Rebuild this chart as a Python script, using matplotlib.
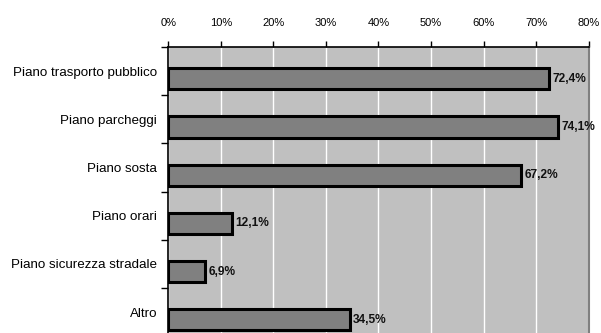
import matplotlib
matplotlib.use("Agg")
import matplotlib.pyplot as plt
from matplotlib.ticker import FixedLocator

categories = ["Piano trasporto pubblico", "Piano parcheggi", "Piano sosta",
              "Piano orari", "Piano sicurezza stradale", "Altro"]
values = [72.4, 74.1, 67.2, 12.1, 6.9, 34.5]
value_labels = ["72,4%", "74,1%", "67,2%", "12,1%", "6,9%", "34,5%"]
xticks = [0, 10, 20, 30, 40, 50, 60, 70, 80]
xtick_labels = ["0%", "10%", "20%", "30%", "40%", "50%", "60%", "70%", "80%"]

plt.rcParams["font.family"] = ["Liberation Sans", "DejaVu Sans"]

fig = plt.figure(figsize=(6.01, 3.33), dpi=100)
ax = fig.add_axes([0.280, -0.0096, 0.6995, 0.8685])
ax.set_facecolor("#c0c0c0")

ypos = list(range(len(categories)))
offset = 0.16
ax.barh([y + offset for y in ypos], values, height=0.44, color="#808080",
        edgecolor="black", linewidth=2.2, zorder=3)
for y, v, lab in zip(ypos, values, value_labels):
    ax.text(v + 0.7, y + offset, lab, va="center", ha="left", fontsize=8.6,
            fontweight="bold", color="#111111", zorder=4)

ax.set_xlim(0, 80)
ax.set_ylim(len(categories) - 0.5, -0.5)
ax.xaxis.set_major_locator(FixedLocator(xticks))
ax.set_xticklabels(xtick_labels)
ax.xaxis.tick_top()
ax.tick_params(axis="x", direction="out", length=4, width=1, pad=10, labelsize=8, colors="black")
ax.grid(axis="x", color="white", linewidth=1, zorder=1)

ax.set_yticks(ypos)
ax.set_yticklabels(categories)
ax.tick_params(axis="y", which="major", length=0, pad=8, labelsize=9.6)
ax.yaxis.set_minor_locator(FixedLocator([y - 0.5 for y in range(len(categories) + 1)]))
ax.tick_params(axis="y", which="minor", direction="out", length=5, width=1)

ax.spines["left"].set_color("black")
ax.spines["left"].set_linewidth(1.2)
ax.spines["top"].set_color("black")
ax.spines["top"].set_linewidth(1.2)
ax.spines["right"].set_color("#808080")
ax.spines["right"].set_linewidth(1.5)
ax.spines["bottom"].set_visible(False)

fig.savefig("out.png", dpi=100, facecolor="white")
